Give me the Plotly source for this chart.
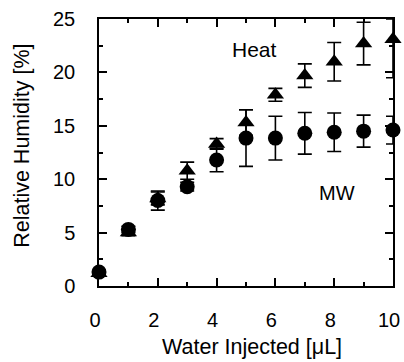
import plotly.graph_objects as go

water = [0, 1, 2, 3, 4, 5, 6, 7, 8, 9, 10]
heat = [1.2, 5.0, 8.2, 10.8, 13.3, 15.3, 17.9, 19.7, 21.0, 22.7, 23.1]
heat_err = [0.2, 0.3, 0.6, 0.8, 0.5, 1.2, 0.6, 1.1, 1.8, 2.0, 3.6]
mw = [1.3, 5.3, 8.0, 9.3, 11.8, 13.85, 13.85, 14.3, 14.4, 14.5, 14.6]
mw_err = [0.2, 0.3, 0.9, 0.4, 1.1, 2.65, 2.05, 1.95, 1.8, 1.5, 1.3]
x_ticks = [0, 2, 4, 6, 8, 10]
y_ticks = [0, 5, 10, 15, 20, 25]
YMAX = 25

FONT = "Liberation Sans, Arial, Helvetica, sans-serif"

# clip error bars at the top of the frame
heat_plus = [min(e, YMAX - v) for v, e in zip(heat, heat_err)]
mw_plus = [min(e, YMAX - v) for v, e in zip(mw, mw_err)]

fig = go.Figure()
fig.add_trace(go.Scatter(
    x=water, y=heat, mode="markers", name="Heat",
    marker=dict(symbol="triangle-up", size=15, color="black"),
    error_y=dict(type="data", symmetric=False, array=heat_plus, arrayminus=heat_err,
                 color="black", thickness=1.6, width=7),
    cliponaxis=False,
))
fig.add_trace(go.Scatter(
    x=water, y=mw, mode="markers", name="MW",
    marker=dict(symbol="circle", size=15, color="black"),
    error_y=dict(type="data", symmetric=False, array=mw_plus, arrayminus=mw_err,
                 color="black", thickness=1.6, width=7),
    cliponaxis=False,
))

fig.add_annotation(x=5.3, y=22.1, text="Heat", showarrow=False,
                   font=dict(size=21, color="black", family=FONT))
fig.add_annotation(x=8.1, y=8.7, text="MW", showarrow=False,
                   font=dict(size=20, color="black", family=FONT))
# axis titles
fig.add_annotation(xref="paper", yref="paper", x=0.522, y=-0.229, xanchor="center", yanchor="middle",
                   text="Water Injected [μL]", showarrow=False, borderpad=0,
                   font=dict(size=21.5, color="black", family=FONT))
fig.add_annotation(xref="paper", yref="paper", x=-0.262, y=0.525, xanchor="center", yanchor="middle",
                   text="Relative Humidity [%]", showarrow=False, textangle=-90,
                   font=dict(size=21.5, color="black", family=FONT))

axis_common = dict(
    showgrid=False, zeroline=False, showline=True, linecolor="black", linewidth=1.5,
    mirror="ticks", ticks="inside", ticklen=8, tickwidth=1.5, tickcolor="black",
    tickfont=dict(size=20, color="black", family=FONT),
)
fig.update_xaxes(
    **axis_common, range=[0, 10], tickvals=x_ticks, ticktext=[str(v) for v in x_ticks],
    minor=dict(ticks="inside", ticklen=4, tickwidth=1.5, tickcolor="black", dtick=1, tick0=0, showgrid=False),
    ticklabelstandoff=15, ticklabelshift=-4,
)
fig.update_yaxes(
    **axis_common, range=[0, YMAX], tickvals=y_ticks, ticktext=[str(v) for v in y_ticks],
    minor=dict(ticks="inside", ticklen=4, tickwidth=1.5, tickcolor="black", dtick=2.5, tick0=0, showgrid=False),
    ticklabelstandoff=18,
)
fig.update_layout(
    width=404, height=362, showlegend=False,
    margin=dict(l=99, r=11, t=19, b=76, autoexpand=False),
    paper_bgcolor="white", plot_bgcolor="white",
    font=dict(family=FONT, color="black"),
)
fig.write_html("out.html", config={"displayModeBar": False},
               post_script="document.body.style.margin='0';document.body.style.padding='0';")
